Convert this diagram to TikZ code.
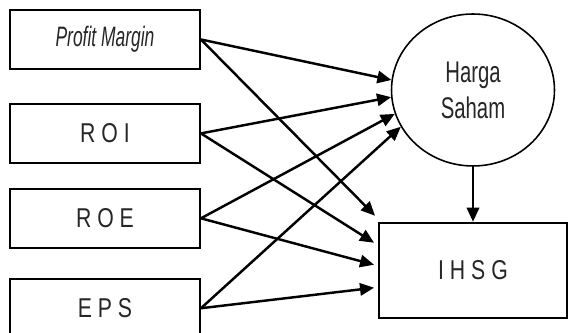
\documentclass[tikz,border=0pt]{standalone}
\usepackage{fontspec}
\usepackage{graphicx}
\setmainfont{Liberation Sans}
\newcommand{\narrowtext}[2][0.78]{\scalebox{#1}[1]{#2}}
\usetikzlibrary{shapes.geometric,arrows.meta,positioning,calc}
\tikzset
{
    varbox/.style = {rectangle, draw=black, line width=1.1pt, minimum width=3.8cm, minimum height=1.18cm, inner sep=0pt, align=center, font=\fontsize{15.5}{18}\selectfont, text=black!85},
    depbox/.style = {varbox, minimum width=3.76cm, minimum height=1.9cm},
    target/.style = {ellipse, draw=black, line width=0.9pt, minimum width=3.26cm, minimum height=3.04cm, inner sep=0pt, align=center, font=\fontsize{17}{20.5}\selectfont, text=black!85},
    arrow/.style  = {line width=1.4pt, -{Triangle[length=8pt,width=7pt]}}
}

\begin{document}
\begin{tikzpicture}[x=0.02cm, y=-0.02cm]
	\useasboundingbox (0,0) rectangle (568,333);
	\node (pm) [varbox, font=\fontsize{16}{19}\selectfont\itshape] at (105,39.5) {\narrowtext[0.62]{Profit Margin}};
	\node (roi) [varbox, below=0.66cm of pm] {\narrowtext{R O I}};
	\node (roe) [varbox, below=0.48cm of roi] {\narrowtext{R O E}};
	\node (eps) [varbox, below=0.58cm of roe] {\narrowtext{E P S}};
	\node (hs) [target] at (473,90) {\narrowtext[0.68]{Harga}\\\narrowtext[0.68]{Saham}};
	\node (ihsg) [depbox, below=1.1cm of hs] {\narrowtext{I H S G}};

	% ke harga saham
	\draw [arrow] (pm.east) -- (hs.173);
	\draw [arrow] (roi.east) -- (hs.185);
	\draw [arrow] (roe.east) -- (hs.197);
	\draw [arrow] (eps.east) -- (hs.207);
	% ke IHSG
	\draw [arrow] (pm.east) -- ($(ihsg.north west)+(-3,-6)$);
	\draw [arrow] (roi.east) -- ($(ihsg.north west)+(-4,21)$);
	\draw [arrow] (roe.east) -- ($(ihsg.north west)+(-4,43)$);
	\draw [arrow] (eps.east) -- ($(ihsg.north west)+(-4,66)$);
	\draw [arrow] (hs.south) -- (ihsg.north);
\end{tikzpicture}
\end{document}
